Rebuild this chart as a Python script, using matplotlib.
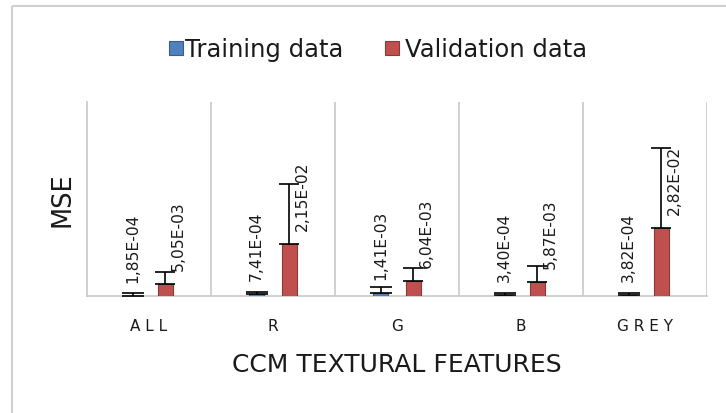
import matplotlib
matplotlib.use("Agg")
import matplotlib.pyplot as plt
import numpy as np
from matplotlib.lines import Line2D
from matplotlib.patches import Rectangle
from matplotlib.transforms import offset_copy

plt.rcParams['font.family'] = ['DejaVu Sans']

categories = ["ALL", "R", "G", "B", "GREY"]
training = [1.85e-4, 7.41e-4, 1.41e-3, 3.40e-4, 3.82e-4]
validation = [5.05e-3, 2.15e-2, 6.04e-3, 5.87e-3, 2.82e-2]
training_err = [1.0e-3, 0.9e-3, 2.3e-3, 1.0e-3, 1.0e-3]
validation_err = [5.0e-3, 2.45e-2, 5.4e-3, 6.6e-3, 3.3e-2]
training_labels = ["1,85E-04", "7,41E-04", "1,41E-03", "3,40E-04", "3,82E-04"]
validation_labels = ["5,05E-03", "2,15E-02", "6,04E-03", "5,87E-03", "2,82E-02"]
series_names = ["Training data", "Validation data"]

W, H = 726, 414
fig = plt.figure(figsize=(W / 100, H / 100), dpi=100)

def fx(px):
    return px / W

def fy(py):
    return 1 - py / H

# outer chart border (left + top only visible)
fig.add_artist(Line2D([fx(12), fx(12)], [0, fy(7)], transform=fig.transFigure,
                      color="#d0d0d0", lw=1.5, solid_capstyle="butt"))
fig.add_artist(Line2D([fx(12), 1], [fy(7), fy(7)], transform=fig.transFigure,
                      color="#d0d0d0", lw=1.5, solid_capstyle="butt"))

ax = fig.add_axes([fx(87), fy(297), (707 - 87) / W, (297 - 103) / H])
x = np.arange(len(categories))
off = 0.133
bw = 0.121
blue, blue_e = "#4F81BD", "#385D8A"
red, red_e = "#C0504D", "#8C3836"
txt = "#1a1a1a"

ax.bar(x - off, training, bw, color=blue, edgecolor=blue_e, lw=0.8, zorder=3)
ax.bar(x + off, validation, bw, color=red, edgecolor=red_e, lw=0.8, zorder=3)
ax.errorbar(x - off, training, yerr=[np.zeros(5), training_err], fmt="none",
            ecolor="black", elinewidth=1.2, capsize=8, capthick=1.2, zorder=4)
ax.errorbar(x + off, validation, yerr=[np.zeros(5), validation_err], fmt="none",
            ecolor="black", elinewidth=1.2, capsize=7, capthick=1.2, zorder=4)

for xi, v, lab in zip(x - off, training, training_labels):
    tr = offset_copy(ax.transData, fig=fig, x=0, y=10, units="points")
    ax.text(xi, v, lab, rotation=90, ha="center", va="bottom", fontsize=11.2,
            color=txt, transform=tr, zorder=5)
for xi, v, lab in zip(x + off, validation, validation_labels):
    tr = offset_copy(ax.transData, fig=fig, x=9, y=10, units="points")
    ax.text(xi, v, lab, rotation=90, ha="center", va="bottom", fontsize=11.2,
            color=txt, transform=tr, zorder=5)

ax.set_xlim(-0.5, 4.5)
ax.set_ylim(0, 0.08)
for b in np.arange(0.5, 5.0, 1.0):
    ax.axvline(b, color="#c8c8c8", lw=1.2, zorder=1)
for s in ["top", "right"]:
    ax.spines[s].set_visible(False)
for s in ["left", "bottom"]:
    ax.spines[s].set_color("#c8c8c8")
    ax.spines[s].set_linewidth(1.2)
ax.set_yticks([])
ax.set_xticks(x)
ax.set_xticklabels([" ".join(c) for c in categories], fontsize=11, color=txt)
ax.tick_params(axis="x", length=0, pad=21)
for lab in ax.get_xticklabels():
    lab.set_va("center")

fig.text(fx(397), fy(365), "CCM TEXTURAL FEATURES", fontsize=18, color=txt,
         ha="center", va="center")
fig.text(fx(63), fy(200), "MSE", fontsize=18.5, color=txt, rotation=90,
         ha="center", va="center")

# legend
for sx, tx, col, ec, name in [(169, 185, blue, blue_e, series_names[0]),
                              (385, 405, red, red_e, series_names[1])]:
    fig.add_artist(Rectangle((fx(sx), fy(56)), 14 / W, 14 / H, transform=fig.transFigure,
                             facecolor=col, edgecolor=ec, lw=0.8))
    fig.text(fx(tx), fy(50), name, fontsize=17.5, color=txt, ha="left", va="center")

fig.savefig("out.png", dpi=100, facecolor="white")
